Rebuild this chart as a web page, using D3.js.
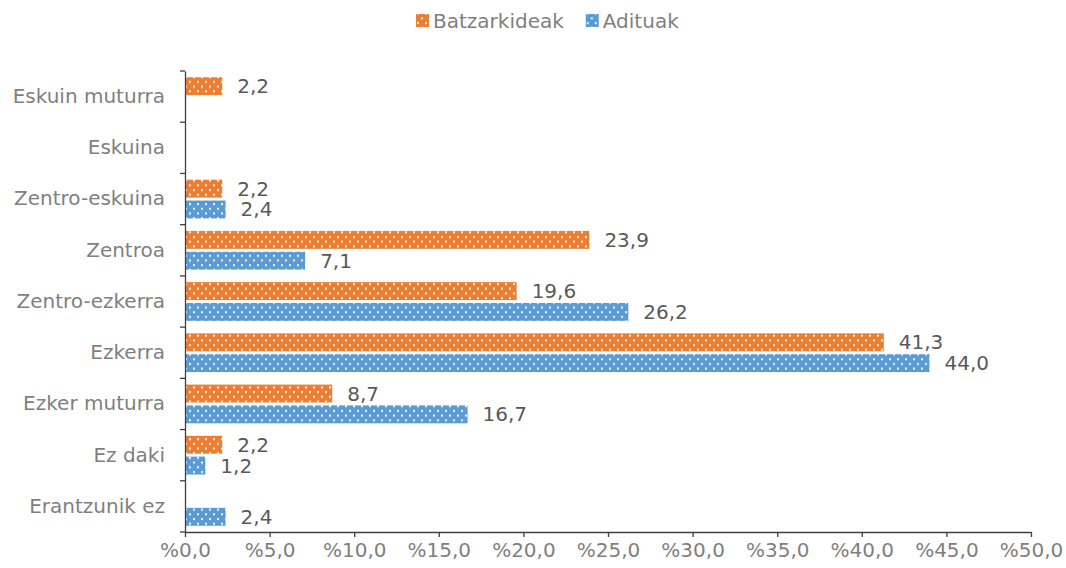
<!DOCTYPE html>
<html>
<head>
<meta charset="utf-8">
<script src="https://cdnjs.cloudflare.com/ajax/libs/d3/7.8.5/d3.min.js"></script>
<style>
  body { margin: 0; background: #fff; }
  text { font-family: "DejaVu Sans", Verdana, sans-serif; }
</style>
</head>
<body>
<svg id="chart" width="1066" height="568"></svg>
<script>
var categories = ["Eskuin muturra", "Eskuina", "Zentro-eskuina", "Zentroa", "Zentro-ezkerra", "Ezkerra", "Ezker muturra", "Ez daki", "Erantzunik ez"];
var seriesNames = ["Batzarkideak", "Adituak"];
var batzarkideak = [2.2, null, 2.2, 23.9, 19.6, 41.3, 8.7, 2.2, null];
var adituak = [null, null, 2.4, 7.1, 26.2, 44.0, 16.7, 1.2, 2.4];
var xTicks = [0, 5, 10, 15, 20, 25, 30, 35, 40, 45, 50];
var colors = ["#ED7D31", "#5B9BD5"];

var svg = d3.select("#chart");
var margin = {left: 185, right: 35, top: 71, bottom: 36};
var W = 1066, H = 568;

// dotted fills
var defs = svg.append("defs");
colors.forEach(function(c, i){
  var p = defs.append("pattern")
    .attr("id", "pat" + i)
    .attr("patternUnits", "userSpaceOnUse")
    .attr("width", 8).attr("height", 9.4);
  p.append("rect").attr("width", 8).attr("height", 9.4).attr("fill", c);
  p.append("rect").attr("x", 1).attr("y", 1).attr("width", 2).attr("height", 2).attr("fill", "#fff").attr("opacity", 0.9);
  p.append("rect").attr("x", 5).attr("y", 5.7).attr("width", 2).attr("height", 2).attr("fill", "#fff").attr("opacity", 0.9);
});

var x = d3.scaleLinear().domain([0, 50]).range([margin.left, W - margin.right]);
var y = d3.scaleBand().domain(categories).range([margin.top, H - margin.bottom]);
var inner = d3.scaleBand().domain(seriesNames).range([0, y.bandwidth()]).paddingInner(0.14).paddingOuter(0.3);

var fmt = function(v){ return v.toFixed(1).replace(".", ","); };

// bars
[batzarkideak, adituak].forEach(function(vals, si){
  var g = svg.append("g");
  var rows = categories.map(function(c, i){ return {cat: c, v: vals[i]}; })
    .filter(function(d){ return d.v != null; });
  g.selectAll("rect").data(rows).enter().append("rect")
    .attr("x", x(0))
    .attr("y", function(d){ return y(d.cat) + inner(seriesNames[si]); })
    .attr("width", function(d){ return x(d.v) - x(0); })
    .attr("height", inner.bandwidth())
    .attr("fill", "url(#pat" + si + ")");
  g.selectAll("text").data(rows).enter().append("text")
    .attr("x", function(d){ return x(d.v) + 15; })
    .attr("y", function(d){ return y(d.cat) + inner(seriesNames[si]) + inner.bandwidth() / 2; })
    .attr("dy", "0.35em")
    .attr("fill", "#595959")
    .attr("font-size", "20px")
    .text(function(d){ return fmt(d.v); });
});

// x axis
var xAxis = svg.append("g")
  .attr("transform", "translate(0," + (H - margin.bottom) + ")")
  .call(d3.axisBottom(x).tickValues(xTicks).tickSize(5).tickSizeOuter(0)
    .tickFormat(function(d){ return "%" + fmt(d); }));
xAxis.select(".domain").attr("stroke", "#404040").attr("stroke-width", 1.3);
xAxis.selectAll(".tick line").attr("stroke", "#404040").attr("stroke-width", 1.3);
xAxis.selectAll(".tick text").attr("fill", "#7f7f7f").attr("font-size", "20px")
  .attr("font-family", "DejaVu Sans, Verdana, sans-serif").attr("dy", "0.85em");

// y axis with ticks between categories
var yAxis = svg.append("g")
  .attr("transform", "translate(" + margin.left + ",0)")
  .call(d3.axisLeft(y).tickSize(0).tickPadding(20));
yAxis.select(".domain").attr("stroke", "#404040").attr("stroke-width", 1.3);
yAxis.selectAll(".tick text").attr("fill", "#7f7f7f").attr("font-size", "20px")
  .attr("font-family", "DejaVu Sans, Verdana, sans-serif");
var bounds = categories.map(function(c){ return y(c); }).concat([y.range()[1]]);
svg.append("g").selectAll("line").data(bounds).enter().append("line")
  .attr("x1", margin.left - 5).attr("x2", margin.left)
  .attr("y1", function(d){ return d; }).attr("y2", function(d){ return d; })
  .attr("stroke", "#404040").attr("stroke-width", 1.3);

// legend
var legend = svg.append("g").attr("transform", "translate(416,21)");
var lx = 0;
seriesNames.forEach(function(n, i){
  var item = legend.append("g").attr("transform", "translate(" + lx + ",0)");
  item.append("rect").attr("x", 0).attr("y", -7).attr("width", 13).attr("height", 13)
    .attr("fill", "url(#pat" + i + ")");
  var t = item.append("text").attr("x", 17).attr("y", 0).attr("dy", "0.35em")
    .attr("fill", "#7f7f7f").attr("font-size", "20px").text(n);
  lx += 17 + t.node().getComputedTextLength() + 22;
});
</script>
</body>
</html>
